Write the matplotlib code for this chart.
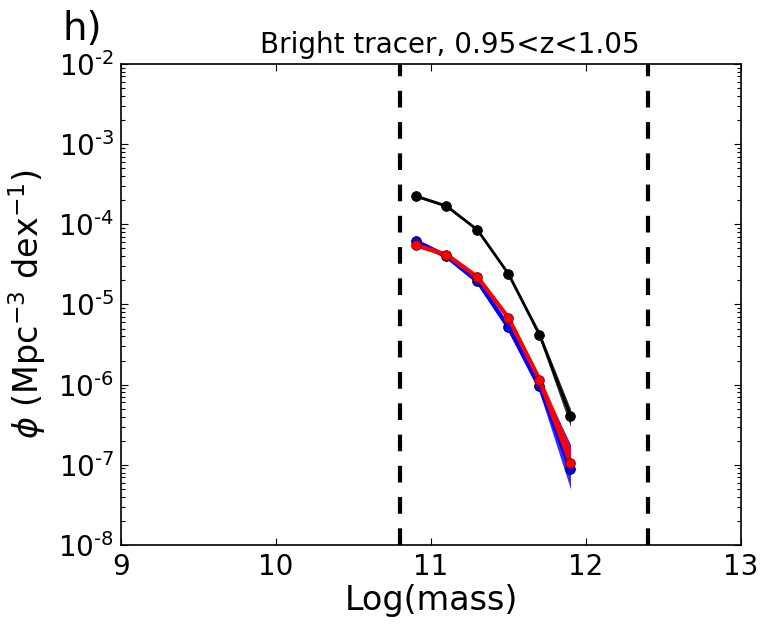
import numpy as np
import matplotlib
matplotlib.use('Agg')
import matplotlib.pyplot as plt
from matplotlib.ticker import LogLocator, FixedLocator, FuncFormatter

# log stellar mass bins
logm = [10.9, 11.1, 11.3, 11.5, 11.7, 11.9]

# number densities (Mpc^-3 dex^-1)
phi_black = [2.26e-4, 1.69e-4, 8.5e-5, 2.4e-5, 4.2e-6, 4.1e-7]
phi_black_lo = [2.18e-4, 1.63e-4, 8.2e-5, 2.3e-5, 3.8e-6, 3.0e-7]
phi_black_hi = [2.34e-4, 1.75e-4, 8.8e-5, 2.5e-5, 4.6e-6, 5.0e-7]

phi_blue = [6.2e-5, 4.0e-5, 1.96e-5, 5.2e-6, 9.6e-7, 8.9e-8]
phi_blue_lo = [5.8e-5, 3.7e-5, 1.8e-5, 4.6e-6, 8.0e-7, 5.0e-8]
phi_blue_hi = [6.6e-5, 4.3e-5, 2.1e-5, 5.8e-6, 1.15e-6, 1.8e-7]

phi_red = [5.5e-5, 4.2e-5, 2.2e-5, 6.8e-6, 1.15e-6, 1.05e-7]
phi_red_lo = [5.2e-5, 3.95e-5, 2.05e-5, 6.2e-6, 1.0e-6, 8.7e-8]
phi_red_hi = [5.8e-5, 4.45e-5, 2.35e-5, 7.4e-6, 1.3e-6, 1.7e-7]

mass_limits = [10.8, 12.4]

plt.rcParams['mathtext.fontset'] = 'dejavusans'

fig = plt.figure(figsize=(7.68, 6.27), dpi=100)
ax = fig.add_axes([0.1576, 0.1308, 0.8072, 0.7672])

for lo, hi, mid, col, lw in [(phi_black_lo, phi_black_hi, phi_black, 'black', 2),
                             (phi_blue_lo, phi_blue_hi, phi_blue, 'blue', 3),
                             (phi_red_lo, phi_red_hi, phi_red, 'red', 3)]:
    ax.fill_between(logm, lo, hi, color=col, alpha=0.8, lw=0)
    ax.plot(logm, mid, 'o-', color=col, lw=lw, markersize=7,
            markeredgecolor='black' if col != 'red' else '#7a0000', markeredgewidth=0.6)

for m in mass_limits:
    ax.axvline(m, color='black', ls='--', lw=3, dashes=(4, 3.5))

ax.set_xlim(9, 13)
ax.set_ylim(1e-8, 1e-2)
ax.set_yscale('log')
ax.xaxis.set_major_locator(FixedLocator([9, 10, 11, 12, 13]))
ax.yaxis.set_major_locator(LogLocator(base=10, numticks=20))
ax.yaxis.set_minor_locator(LogLocator(base=10, subs=np.arange(2, 10), numticks=20))
# hyphen (U+2010) in the exponent, as in the original labels
HYPHEN = '\u2010'
ax.yaxis.set_major_formatter(FuncFormatter(
    lambda v, p: '$\\mathregular{10^{' + HYPHEN + '%d}}$' % abs(int(round(np.log10(v))))))

ax.tick_params(which='both', direction='in', top=True, right=True, labelsize=20)
ax.tick_params(axis='x', pad=6)
ax.tick_params(axis='y', pad=5)
ax.tick_params(which='major', length=5, width=0.8)
ax.tick_params(which='minor', length=3, width=0.8)
for s in ax.spines.values():
    s.set_linewidth(1.2)

ax.set_xlabel('Log(mass)', fontsize=24, labelpad=2)
ax.set_ylabel(r'$\phi$ (Mpc$^{-3}$ dex$^{-1}$)', fontsize=24)
ax.yaxis.set_label_coords(-0.118, 0.5)
ax.set_title('Bright tracer, 0.95<z<1.05', fontsize=20, pad=8, x=0.531)
fig.text(0.082, 0.936, 'h)', fontsize=28)

plt.savefig('out.png', dpi=100)
